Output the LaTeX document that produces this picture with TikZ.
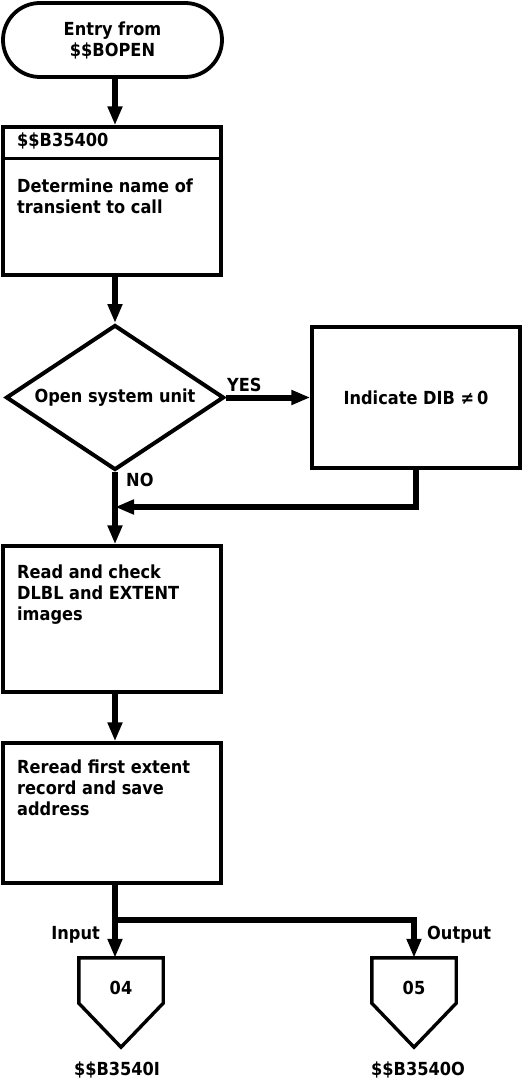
\documentclass[tikz,border=0pt]{standalone}
\usepackage{fontspec}
\setmainfont{DejaVu Sans Condensed}
\usetikzlibrary{arrows.meta,shapes.geometric,calc}

\begin{document}
\begin{tikzpicture}[x=1pt,y=-1pt,
  txt/.style={font=\fontsize{18}{21}\selectfont\bfseries, inner sep=0pt},
  boxed/.style={draw, line width=3.4pt, minimum width=218pt, inner sep=0pt},
  flow/.style={line width=6pt, -{Triangle[length=19pt,width=14pt]}},
  plain/.style={line width=6pt},
  outline/.style={line width=3.4pt, line join=miter},
  offpage/.style={minimum width=84pt, minimum height=45pt, inner sep=0pt},
]
\useasboundingbox (0,0) rectangle (525,1083);
\fill[white] (0,0) rectangle (525,1083);

% main column
\coordinate (spine) at (115,0);

% entry terminal
\node[draw, line width=3.8pt, rounded corners=37pt, minimum width=219pt,
      minimum height=74pt, txt, align=center] (start) at (112.5,40)
      {Entry from\\\$\$BOPEN};

% first process box with its header strip
\node[boxed, minimum height=148pt] (b1) at (112,201) {};
\draw[outline] ($(b1.north west)+(0,33)$) -- ($(b1.north east)+(0,33)$);
\node[txt, anchor=base west] (b1h) at (17,147) {\$\$B35400};
\node[txt, anchor=north west, align=left] (b1t) at (17,178.3)
      {Determine name of\\transient to call};

% decision
\node[draw, diamond, aspect=1.5, line width=4pt, minimum width=218pt,
      minimum height=145pt, inner sep=0pt, txt] (dec) at (115,397.5)
      {Open system unit};

% branch box
\node[boxed, minimum width=208pt, minimum height=141pt, txt] (b2) at (416,397.5)
      {Indicate DIB ≠\,0};

% read and check
\node[boxed, minimum height=146pt] (b3) at (112,619) {};
\node[txt, anchor=north west, align=left] (b3t) at (17,564.3)
      {Read and check\\DLBL and EXTENT\\images};

% reread extent
\node[boxed, minimum height=140pt] (b4) at (112,813) {};
\node[txt, anchor=north west, align=left] (b4t) at (17,759.3)
      {Reread first extent\\record and save\\address};

% off-page connectors
\node[offpage] (p1) at (121,980.5) {};
\draw[outline] (p1.north west) -- (p1.north east) -- (p1.south east)
   -- ($(p1.south)+(0,44)$) -- (p1.south west) -- cycle;
\node[txt] (p1t) at (121,987.5) {04};
\node[txt, anchor=base] (p1n) at (117,1075) {\$\$B3540I};

\node[offpage] (p2) at (414,980.5) {};
\draw[outline] (p2.north west) -- (p2.north east) -- (p2.south east)
   -- ($(p2.south)+(0,44)$) -- (p2.south west) -- cycle;
\node[txt] (p2t) at (414,987.5) {05};
\node[txt, anchor=base] (p2n) at (418,1075) {\$\$B3540O};

% connectors
\coordinate (merge) at (115,507);
\coordinate (fork) at (115,920);
\draw[flow] (start.south -| spine) -- (b1.north -| spine);
\draw[flow] (b1.south -| spine) -- (dec.north);
\draw[flow] (dec.east) -- (b2.west);
\draw[flow] (dec.south) -- (b3.north -| spine);
\draw[flow, line join=miter] (b2.south) |- (merge);
\draw[flow] (b3.south -| spine) -- (b4.north -| spine);
\draw[plain] (b4.south -| spine) -- (fork);
\draw[flow] (fork) -- (p1.north -| fork);
\draw[flow, line join=miter] (fork) -| (p2.north);

% branch labels
\node[txt, anchor=base west] (yes) at (227,391) {YES};
\node[txt, anchor=base west] (no) at (126,486) {NO};
\node[txt, anchor=base east] (inp) at (100,939) {Input};
\node[txt, anchor=base west] (outp) at (427,939) {Output};
\end{tikzpicture}
\end{document}
